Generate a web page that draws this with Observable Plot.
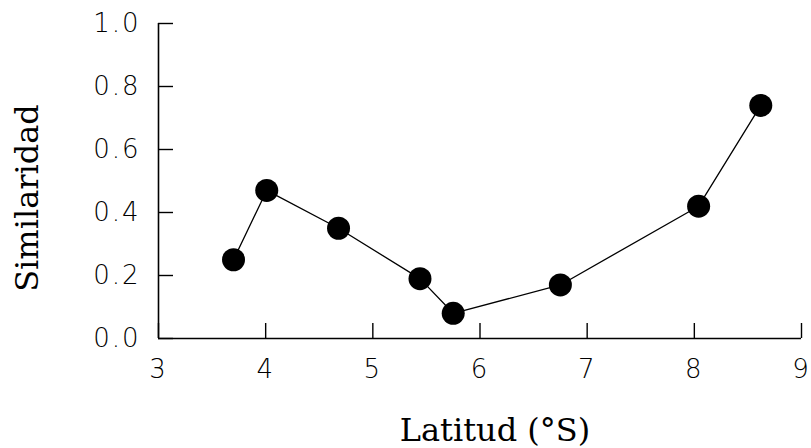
<!DOCTYPE html>
<html>
<head>
<meta charset="utf-8">
<script src="https://cdn.jsdelivr.net/npm/d3@7"></script>
<script src="https://cdn.jsdelivr.net/npm/@observablehq/plot@0.6"></script>
<style>
  body { margin: 0; background: #fff; }
  g[aria-label="x-axis tick label"] text,
  g[aria-label="y-axis tick label"] text { letter-spacing: 2px; }
</style>
</head>
<body>
<div id="chart"></div>
<script>
// Similarity between sites by latitude
const latitude   = [3.70, 4.01, 4.68, 5.44, 5.75, 6.75, 8.04, 8.62];
const similarity = [0.25, 0.47, 0.35, 0.19, 0.08, 0.17, 0.42, 0.74];

const xTicks = [3, 4, 5, 6, 7, 8, 9];
const yTicks = [0, 0.2, 0.4, 0.6, 0.8, 1.0];
const xTitle = "Latitud (°S)";
const yTitle = "Similaridad";

const data = latitude.map((x, i) => ({x, y: similarity[i]}));

const tickFont = {fontFamily: "DejaVu Sans", fontWeight: 200, fontSize: 26};
const titleFont = {fontFamily: "DejaVu Serif", fontSize: 32};

const W = 811, H = 448, ML = 158, MR = 10, MT = 23, MB = 110;
const frameW = W - ML - MR, frameH = H - MT - MB;

const chart = Plot.plot({
  width: W,
  height: H,
  marginLeft: ML,
  marginRight: MR,
  marginTop: MT,
  marginBottom: MB,
  style: {background: "#fff", color: "#000"},
  x: {domain: [3, 9]},
  y: {domain: [0, 1]},
  marks: [
    // axis lines
    Plot.ruleX([3], {strokeWidth: 1.6}),
    Plot.ruleY([0], {strokeWidth: 1.6}),
    // inward ticks
    Plot.tickX(xTicks, {x: d => d, insetTop: frameH - 15, strokeWidth: 1.4}),
    Plot.tickY(yTicks, {y: d => d, insetRight: frameW - 15, strokeWidth: 1.4}),
    // tick labels
    Plot.axisX({ticks: xTicks, tickSize: 0, tickPadding: 21, tickFormat: d => String(d), label: null, ...tickFont}),
    Plot.axisY({ticks: yTicks, tickSize: 0, tickPadding: 18, tickFormat: d3.format(".1f"), label: null, ...tickFont}),
    // series
    Plot.line(data, {x: "x", y: "y", stroke: "#000", strokeWidth: 1.3}),
    Plot.dot(data, {x: "x", y: "y", r: 11.5, fill: "#000", stroke: null}),
    // axis titles
    Plot.text([xTitle], {text: d => d, frameAnchor: "bottom", textAnchor: "middle", dy: 102, dx: 15, ...titleFont, fill: "#000"}),
    Plot.text([yTitle], {text: d => d, frameAnchor: "left", textAnchor: "middle", dx: -131, dy: 17, rotate: -90, ...titleFont, fill: "#000"})
  ]
});

document.getElementById("chart").appendChild(chart);
</script>
</body>
</html>
